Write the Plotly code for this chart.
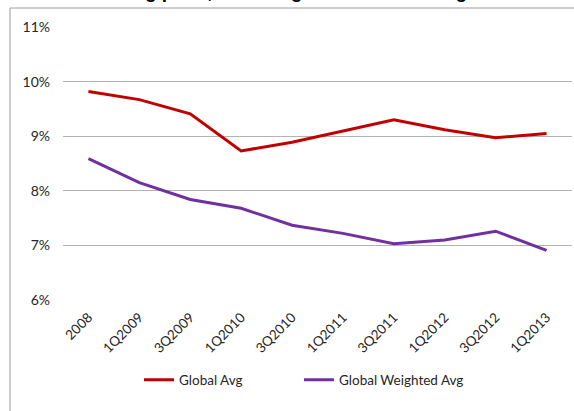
import plotly.graph_objects as go

categories = ["2008", "1Q2009", "3Q2009", "1Q2010", "3Q2010", "1Q2011",
              "3Q2011", "1Q2012", "3Q2012", "1Q2013"]
global_avg = [9.82, 9.67, 9.41, 8.73, 8.89, 9.09, 9.30, 9.12, 8.97, 9.05]
global_weighted_avg = [8.59, 8.15, 7.84, 7.68, 7.37, 7.22, 7.03, 7.10, 7.26, 6.91]
y_ticks = [6, 7, 8, 9, 10, 11]
y_tick_labels = ["6%", "7%", "8%", "9%", "10%", "11%"]
title_text = "Issue offering price, including fees and exchange rates"

W, H = 574, 411
ml, mr, mt, mb = 63, 2, 27, 111
pw, ph = W - ml - mr, H - mt - mb

def px_x(p):
    return (p - ml) / pw

def px_y(p):
    return (H - mb - p) / ph

fig = go.Figure()
fig.add_trace(go.Scatter(x=categories, y=global_avg, mode="lines", name="Global Avg",
                         line=dict(color="#C00000", width=3), legend="legend"))
fig.add_trace(go.Scatter(x=categories, y=global_weighted_avg, mode="lines",
                         name="Global Weighted Avg",
                         line=dict(color="#7030A0", width=3), legend="legend2"))

font_family = "Lato, Open Sans, sans-serif"

leg_common = dict(orientation="h", yanchor="middle", y=px_y(380),
                  xanchor="left", font=dict(size=13.5), itemwidth=30,
                  bgcolor="rgba(0,0,0,0)")

fig.update_layout(
    width=W, height=H,
    margin=dict(l=ml, r=mr, t=mt, b=mb),
    paper_bgcolor="white", plot_bgcolor="white",
    font=dict(family=font_family, size=13.5, color="#262626"),
    xaxis=dict(type="category", range=[-0.5, 9.5], tickangle=-45,
               showgrid=False, zeroline=False, showline=False, ticks="",
               tickfont=dict(size=13.5), ticklabelstandoff=6),
    yaxis=dict(range=[6, 11], tickvals=y_ticks, ticktext=y_tick_labels,
               showgrid=True, gridcolor="#B3B3B3", gridwidth=1,
               zeroline=False, showline=False, ticks="", ticklen=0,
               tickfont=dict(size=14), ticklabelstandoff=12),
    legend=dict(x=px_x(139), **leg_common),
    legend2=dict(x=px_x(299), **leg_common),
    showlegend=True,
)

# chart-area border (left and top)
fig.add_shape(type="line", xref="paper", yref="paper",
              x0=px_x(10), x1=px_x(10), y0=px_y(8), y1=px_y(H + 5),
              line=dict(color="#BDBDBD", width=1.5))
fig.add_shape(type="line", xref="paper", yref="paper",
              x0=px_x(10), x1=px_x(W + 5), y0=px_y(8), y1=px_y(8),
              line=dict(color="#BDBDBD", width=1.5))

# title, mostly cropped off at the top edge
fig.add_annotation(text="<b>" + title_text + "</b>", xref="paper", yref="paper",
                   x=px_x(280), y=px_y(4), xanchor="center", yanchor="bottom",
                   showarrow=False, font=dict(size=19, color="black",
                                              family="Liberation Sans, Arial, sans-serif"))

fig.write_html("out.html", config={"displayModeBar": False},
               post_script="document.body.style.margin='0';")
